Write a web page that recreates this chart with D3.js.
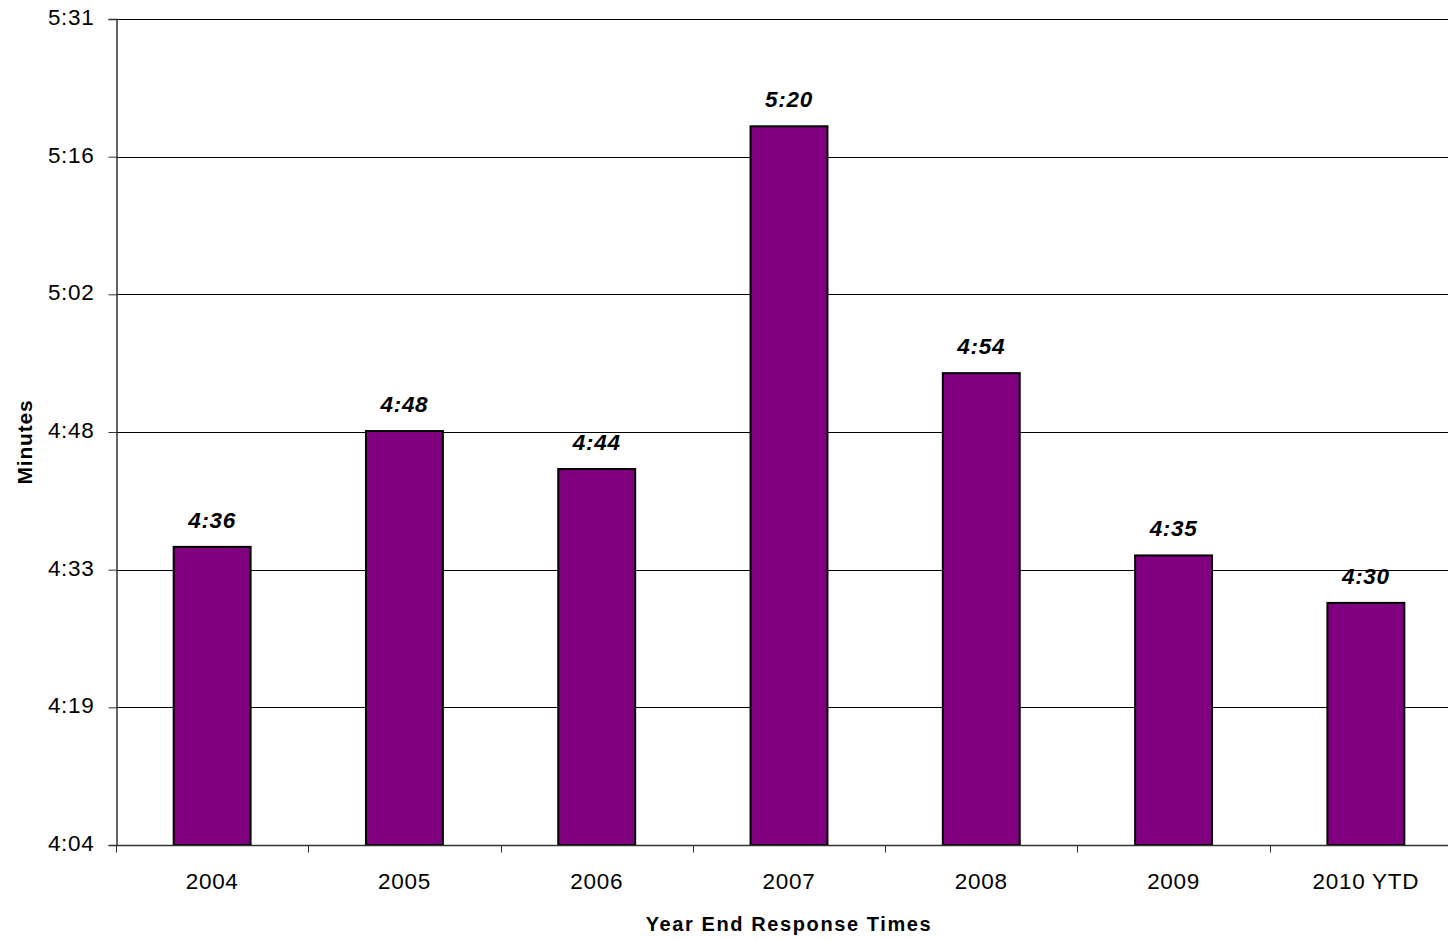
<!DOCTYPE html>
<html><head><meta charset="utf-8">
<script src="https://cdn.jsdelivr.net/npm/d3@7"></script>
<style>
html,body{margin:0;padding:0;background:#fff;}
svg{display:block;font-family:"Liberation Sans",Arial,sans-serif;}
</style></head>
<body>
<svg id="chart" width="1448" height="940"></svg>
<script>
const categories = ["2004","2005","2006","2007","2008","2009","2010 YTD"];
// response time in seconds
const seconds = [275.4, 287.6, 283.6, 319.7, 293.7, 274.5, 269.5];
const valueLabels = ["4:36","4:48","4:44","5:20","4:54","4:35","4:30"];
const tickValues = [244, 258.5, 273, 287.5, 302, 316.5, 331];
const tickLabels = ["4:04","4:19","4:33","4:48","5:02","5:16","5:31"];

(function () {
const svg = d3.select("#chart");
const pLeft = 116, pRight = 1462, pTop = 19, pBottom = 845;
const FONT = "Liberation Sans, Arial, sans-serif";

const x = d3.scaleBand().domain(categories).range([pLeft, pRight]).padding(0);
const y = d3.scaleLinear().domain([244, 331]).range([pBottom, pTop]);

// gridlines
svg.append("g").selectAll("line").data(tickValues.slice(1)).join("line")
  .attr("x1", pLeft).attr("x2", 1448)
  .attr("y1", d => Math.round(y(d)) + 0.5).attr("y2", d => Math.round(y(d)) + 0.5)
  .attr("stroke", "#000").attr("stroke-width", 1);

// bars
const bw = x.bandwidth() * 0.4;
svg.append("g").selectAll("rect").data(categories).join("rect")
  .attr("x", (d) => x(d) + (x.bandwidth() - bw) / 2)
  .attr("y", (d, i) => y(seconds[i]))
  .attr("width", bw)
  .attr("height", (d, i) => pBottom - y(seconds[i]))
  .attr("fill", "#800080")
  .attr("stroke", "#000").attr("stroke-width", 2);

// value labels
svg.append("g").selectAll("text").data(categories).join("text")
  .attr("x", d => x(d) + x.bandwidth() / 2)
  .attr("y", (d, i) => y(seconds[i]) - 19)
  .attr("text-anchor", "middle")
  .attr("font-size", 22.5).attr("font-weight", "bold").attr("font-style", "italic")
  .attr("letter-spacing", 0.7)
  .text((d, i) => valueLabels[i]);

// y axis
const yAxis = d3.axisLeft(y).tickValues(tickValues)
  .tickFormat((d, i) => tickLabels[i]).tickSize(8).tickPadding(14);
const gy = svg.append("g").attr("transform", `translate(${pLeft + 0.5},0)`).call(yAxis);
gy.select(".domain").attr("stroke", "#333").attr("stroke-width", 1.5);
gy.selectAll(".tick line").attr("stroke", "#333");
gy.selectAll(".tick text").attr("font-size", 22.5).attr("fill", "#000")
  .attr("font-family", FONT).attr("letter-spacing", 0.7)
  .attr("x", -22).attr("dy", 5.5);

// x axis
const xAxis = d3.axisBottom(x).tickSize(0).tickPadding(28);
const gx = svg.append("g").attr("transform", `translate(0,${pBottom + 0.5})`).call(xAxis);
gx.select(".domain").remove();
gx.append("line").attr("x1", pLeft).attr("x2", 1448).attr("y1", 0).attr("y2", 0)
  .attr("stroke", "#333").attr("stroke-width", 1.5);
gx.selectAll(".tick text").attr("font-size", 22.5).attr("fill", "#000")
  .attr("font-family", FONT).attr("letter-spacing", 0.7)
  .attr("y", 43.5).attr("dy", 0);
// category boundary tick marks
gx.append("g").selectAll("line").data(categories).join("line")
  .attr("x1", d => Math.round(x(d)) + 0.5).attr("x2", d => Math.round(x(d)) + 0.5)
  .attr("y1", 0).attr("y2", 7).attr("stroke", "#333");

// axis titles
svg.append("text").attr("x", 789).attr("y", 931).attr("text-anchor", "middle")
  .attr("font-size", 20).attr("font-weight", "bold").attr("letter-spacing", 1.6)
  .text("Year End Response Times");
svg.append("text").attr("transform", "translate(32,442) rotate(-90)")
  .attr("text-anchor", "middle").attr("font-size", 21).attr("font-weight", "bold")
  .attr("letter-spacing", 0.8)
  .text("Minutes");
})();
</script>
</body></html>
